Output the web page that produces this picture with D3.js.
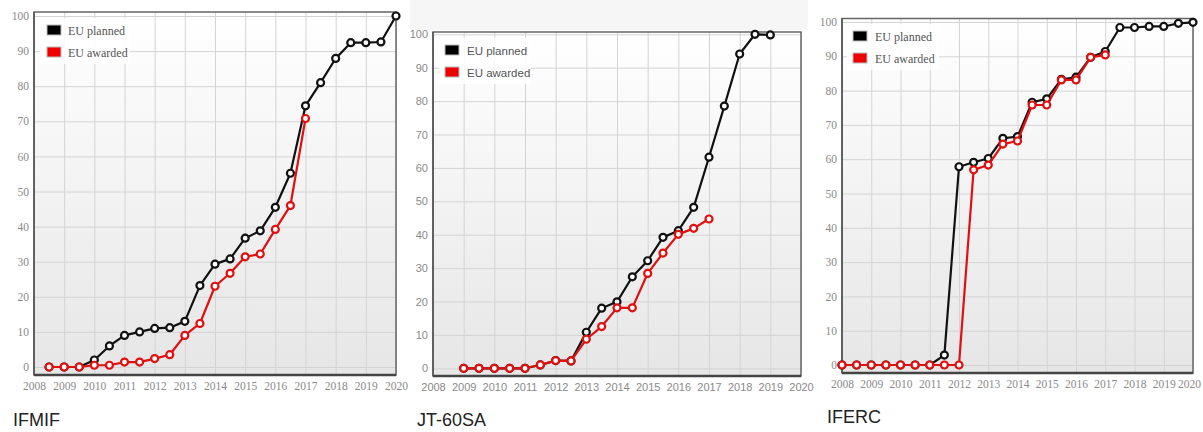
<!DOCTYPE html>
<html>
<head>
<meta charset="utf-8">
<script src="https://cdn.jsdelivr.net/npm/d3@7"></script>
<style>
  html, body { margin: 0; padding: 0; background: #ffffff; }
  svg { display: block; }
</style>
</head>
<body>
<svg id="chart" width="1203" height="432"></svg>
<script>
// ---------- data ----------
const yearTicks = [2008, 2009, 2010, 2011, 2012, 2013, 2014, 2015, 2016, 2017, 2018, 2019, 2020];
const valueTicks = [0, 10, 20, 30, 40, 50, 60, 70, 80, 90, 100];
const seriesNames = ["EU planned", "EU awarded"];

// IFMIF
const ifmifPlannedT = [2008.5, 2009, 2009.5, 2010, 2010.5, 2011, 2011.5, 2012, 2012.5, 2013, 2013.5, 2014, 2014.5, 2015, 2015.5, 2016, 2016.5, 2017, 2017.5, 2018, 2018.5, 2019, 2019.5, 2020];
const ifmifPlanned  = [0, 0, 0, 2, 6, 9, 10, 11, 11.2, 13, 23.2, 29.3, 30.8, 36.7, 38.8, 45.5, 55.2, 74.4, 81, 87.9, 92.4, 92.4, 92.6, 100];
const ifmifAwardedT = [2008.5, 2009, 2009.5, 2010, 2010.5, 2011, 2011.5, 2012, 2012.5, 2013, 2013.5, 2014, 2014.5, 2015, 2015.5, 2016, 2016.5, 2017];
const ifmifAwarded  = [0, 0, 0, 0.5, 0.5, 1.4, 1.4, 2.4, 3.5, 9, 12.4, 23, 26.7, 31.4, 32.2, 39.2, 46, 70.8];

// JT-60SA
const jtPlannedT = [2009, 2009.5, 2010, 2010.5, 2011, 2011.5, 2012, 2012.5, 2013, 2013.5, 2014, 2014.5, 2015, 2015.5, 2016, 2016.5, 2017, 2017.5, 2018, 2018.5, 2019];
const jtPlanned  = [0, 0, 0, 0, 0, 1, 2.3, 2.2, 10.8, 18, 19.9, 27.4, 32.2, 39.2, 41.2, 48.2, 63.2, 78.5, 94.1, 100, 99.8];
const jtAwardedT = [2009, 2009.5, 2010, 2010.5, 2011, 2011.5, 2012, 2012.5, 2013, 2013.5, 2014, 2014.5, 2015, 2015.5, 2016, 2016.5, 2017];
const jtAwarded  = [0, 0, 0, 0, 0, 1, 2.3, 2.2, 8.7, 12.5, 18.1, 18.1, 28.4, 34.5, 40.1, 41.9, 44.7];

// IFERC
const ifercPlannedT = [2008, 2008.5, 2009, 2009.5, 2010, 2010.5, 2011, 2011.5, 2012, 2012.5, 2013, 2013.5, 2014, 2014.5, 2015, 2015.5, 2016, 2016.5, 2017, 2017.5, 2018, 2018.5, 2019, 2019.5, 2020];
const ifercPlanned  = [0, 0, 0, 0, 0, 0, 0, 2.9, 57.8, 59.1, 60.2, 66.1, 66.6, 76.6, 77.6, 83.3, 83.9, 89.7, 91.4, 98.4, 98.4, 98.7, 98.7, 99.6, 99.9];
const ifercAwardedT = [2008, 2008.5, 2009, 2009.5, 2010, 2010.5, 2011, 2011.5, 2012, 2012.5, 2013, 2013.5, 2014, 2014.5, 2015, 2015.5, 2016, 2016.5, 2017];
const ifercAwarded  = [0, 0, 0, 0, 0, 0, 0, 0, 0, 56.9, 58.3, 64.4, 65.3, 75.8, 75.8, 83.1, 83.1, 89.7, 90.4];

const panelTitles = ["IFMIF", "JT-60SA", "IFERC"];

// ---------- layout ----------
const svg = d3.select("#chart");
const defs = svg.append("defs");
const grad = defs.append("linearGradient").attr("id", "bg").attr("x1", 0).attr("y1", 0).attr("x2", 0).attr("y2", 1);
grad.append("stop").attr("offset", "0%").attr("stop-color", "#ffffff");
grad.append("stop").attr("offset", "100%").attr("stop-color", "#e6e6e6");

const serif = "'Liberation Serif', 'DejaVu Serif', serif";
const sans = "'Liberation Sans', Arial, sans-serif";

// top grey band in middle image
svg.append("rect").attr("x", 410).attr("y", 0).attr("width", 398).attr("height", 30).attr("fill", "#f6f6f6");

const panels = [
  { title: panelTitles[0], planT: ifmifPlannedT, plan: ifmifPlanned, awT: ifmifAwardedT, aw: ifmifAwarded,
    left: 34, right: 396, top: 12, bottom: 375, y0: 367, y100: 16, font: serif, tickFs: 11.5, legFs: 12,
    leg: { x: 47, y: 25, tx: 68, box: [40, 18, 90, 46] }, titleX: 13, titleY: 426, lastShift: 0 },
  { title: panelTitles[1], planT: jtPlannedT, plan: jtPlanned, awT: jtAwardedT, aw: jtAwarded,
    left: 433, right: 801, top: 32, bottom: 376, y0: 368.3, y100: 34.3, font: sans, tickFs: 11, legFs: 11.5,
    leg: { x: 445, y: 45, tx: 467, box: [439, 38, 92, 46] }, titleX: 417, titleY: 426, lastShift: 0 },
  { title: panelTitles[2], planT: ifercPlannedT, plan: ifercPlanned, awT: ifercAwardedT, aw: ifercAwarded,
    left: 842, right: 1193, top: 18.5, bottom: 373, y0: 365, y100: 22, font: serif, tickFs: 11.5, legFs: 12,
    leg: { x: 853, y: 31, tx: 875, box: [847, 24, 92, 46] }, titleX: 827, titleY: 423, lastShift: -4 }
];

panels.forEach(p => {
  const g = svg.append("g");
  const x = d3.scaleLinear().domain([yearTicks[0], yearTicks[yearTicks.length - 1]]).range([p.left, p.right]);
  const y = d3.scaleLinear().domain([0, 100]).range([p.y0, p.y100]);
  const w = p.right - p.left, h = p.bottom - p.top;

  g.append("rect").attr("x", p.left).attr("y", p.top).attr("width", w).attr("height", h).attr("fill", "url(#bg)");

  // grid
  const gx = g.append("g").attr("transform", `translate(0,${p.bottom})`)
    .call(d3.axisBottom(x).tickValues(yearTicks).tickSize(-h).tickFormat(""));
  gx.select(".domain").remove();
  gx.selectAll("line").attr("stroke", "#d4d4d4").attr("stroke-width", 1);
  const gy = g.append("g").attr("transform", `translate(${p.left},0)`)
    .call(d3.axisLeft(y).tickValues(valueTicks).tickSize(-w).tickFormat(""));
  gy.select(".domain").remove();
  gy.selectAll("line").attr("stroke", "#d4d4d4").attr("stroke-width", 1);

  // frame
  g.append("rect").attr("x", p.left).attr("y", p.top).attr("width", w).attr("height", h)
    .attr("fill", "none").attr("stroke", "#666").attr("stroke-width", 1.5);
  g.append("line").attr("x1", p.left).attr("x2", p.right).attr("y1", p.bottom).attr("y2", p.bottom)
    .attr("stroke", "#444").attr("stroke-width", 2.5);
  g.append("line").attr("x1", p.left).attr("x2", p.left).attr("y1", p.top).attr("y2", p.bottom)
    .attr("stroke", "#555").attr("stroke-width", 1.5);

  // tick labels
  const ly = g.append("g").attr("transform", `translate(${p.left},0)`)
    .call(d3.axisLeft(y).tickValues(valueTicks).tickSize(0).tickPadding(5));
  ly.select(".domain").remove();
  ly.selectAll("text").attr("fill", "#8a8a8a").attr("font-family", p.font).attr("font-size", p.tickFs);
  const lx = g.append("g").attr("transform", `translate(0,${p.bottom})`)
    .call(d3.axisBottom(x).tickValues(yearTicks).tickSize(0).tickPadding(7).tickFormat(d3.format("d")));
  lx.select(".domain").remove();
  lx.selectAll("text").attr("fill", "#8a8a8a").attr("font-family", p.font).attr("font-size", p.tickFs)
    .attr("dx", (d, i, n) => i === n.length - 1 ? p.lastShift : 0);

  // series
  const line = d3.line().x(d => x(d[0])).y(d => y(d[1]));
  const series = [
    { pts: d3.zip(p.planT, p.plan), color: "#111111" },
    { pts: d3.zip(p.awT, p.aw), color: "#e01010" }
  ];
  series.forEach(s => {
    g.append("path").datum(s.pts).attr("d", line).attr("fill", "none")
      .attr("stroke", s.color).attr("stroke-width", 2.2).attr("stroke-linejoin", "round");
    g.append("g").selectAll("circle").data(s.pts).join("circle")
      .attr("cx", d => x(d[0])).attr("cy", d => y(d[1])).attr("r", 3.5)
      .attr("fill", "#ffffff").attr("stroke", s.color).attr("stroke-width", 2.2);
  });

  // legend
  const lg = g.append("g");
  lg.append("rect").attr("x", p.leg.box[0]).attr("y", p.leg.box[1]).attr("width", p.leg.box[2]).attr("height", p.leg.box[3])
    .attr("fill", "#ffffff").attr("opacity", 0.85);
  ["#000000", "#ee0000"].forEach((c, i) => {
    lg.append("rect").attr("x", p.leg.x).attr("y", p.leg.y + i * 22).attr("width", 14).attr("height", 10)
      .attr("fill", c).attr("stroke", "#bbbbbb").attr("stroke-width", 1);
    lg.append("text").attr("x", p.leg.tx).attr("y", p.leg.y + i * 22 + 9.5)
      .attr("font-family", p.font).attr("font-size", p.legFs).attr("fill", "#555")
      .text(seriesNames[i]);
  });

  // title
  svg.append("text").attr("x", p.titleX).attr("y", p.titleY)
    .attr("font-family", sans).attr("font-size", 18).attr("fill", "#222")
    .text(p.title);
});
</script>
</body>
</html>
